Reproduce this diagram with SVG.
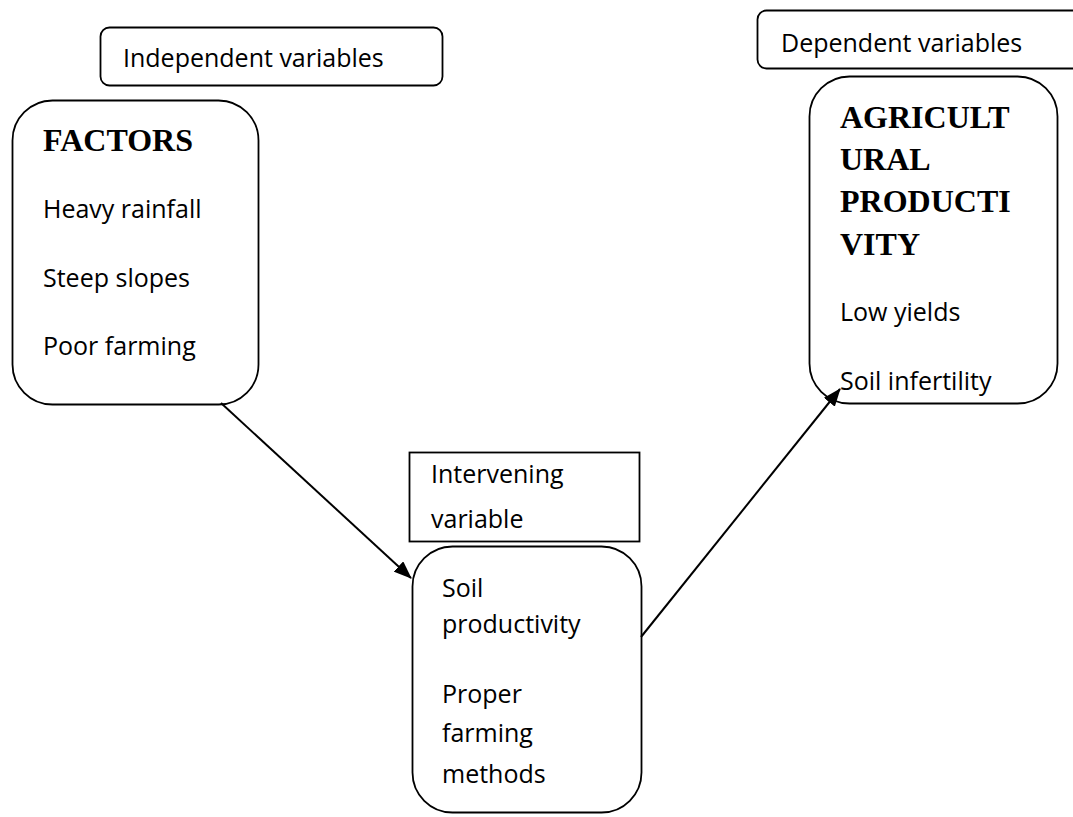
<svg xmlns="http://www.w3.org/2000/svg" width="1073" height="817" viewBox="0 0 1073 817">
<style>
.box{fill:#fff;stroke:#000;stroke-width:1.8}
.t{font-family:"Open Sans","Liberation Sans",sans-serif;font-size:25px;fill:#000}
.h{font-family:"Liberation Serif","Times New Roman",serif;font-size:32px;font-weight:bold;fill:#000}
.c{stroke:#000;stroke-width:2;fill:none}
</style>
<defs>
<marker id="arr" markerWidth="18" markerHeight="14" refX="17" refY="7" orient="auto" markerUnits="userSpaceOnUse">
<path d="M0,0 L18,7 L0,14 z" fill="#000"/>
</marker>
</defs>
<rect width="1073" height="817" fill="#fff"/>
<g id="independent-label">
<rect class="box" x="100.5" y="27.5" width="342" height="58" rx="9"/>
<text class="t" x="123" y="67">Independent variables</text>
</g>
<g id="factors">
<rect class="box" x="12.5" y="100.5" width="246" height="304" rx="40"/>
<text class="h" x="43" y="151">FACTORS</text>
<text class="t" x="43" y="218">Heavy rainfall</text>
<text class="t" x="43" y="287">Steep slopes</text>
<text class="t" x="43" y="355">Poor farming</text>
</g>
<g id="dependent-label">
<rect class="box" x="757.5" y="10.5" width="330" height="58" rx="9"/>
<text class="t" x="781" y="52">Dependent variables</text>
</g>
<g id="agricultural-productivity">
<rect class="box" x="809.5" y="76.5" width="248" height="327" rx="40"/>
<text class="h" x="840" y="128">AGRICULT</text>
<text class="h" x="840" y="170">URAL</text>
<text class="h" x="840" y="212">PRODUCTI</text>
<text class="h" x="840" y="255">VITY</text>
<text class="t" x="840" y="321">Low yields</text>
<text class="t" x="840" y="390">Soil infertility</text>
</g>
<g id="intervening-label">
<rect class="box" x="409.5" y="452.5" width="230" height="89"/>
<text class="t" x="431" y="483">Intervening</text>
<text class="t" x="431" y="528">variable</text>
</g>
<g id="soil-productivity">
<rect class="box" x="412.5" y="546.5" width="229" height="266" rx="40"/>
<text class="t" x="442" y="597">Soil</text>
<text class="t" x="442" y="633">productivity</text>
<text class="t" x="442" y="703">Proper</text>
<text class="t" x="442" y="742">farming</text>
<text class="t" x="442" y="783">methods</text>
</g>
<g id="connectors">
<line class="c" x1="221" y1="403" x2="411" y2="578" marker-end="url(#arr)"/>
<line class="c" x1="641" y1="637" x2="840" y2="389" marker-end="url(#arr)"/>
</g>
</svg>
